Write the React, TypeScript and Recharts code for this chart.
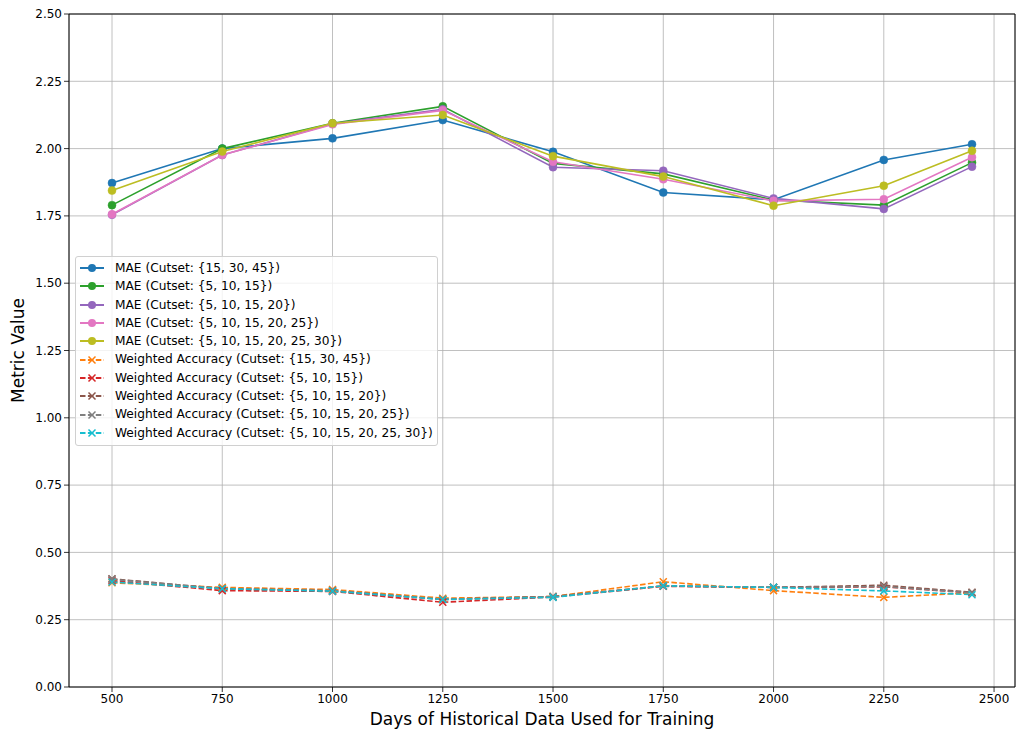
import React from "react";
import {
  LineChart,
  Line,
  XAxis,
  YAxis,
  CartesianGrid,
  Legend,
  ReferenceLine,
} from "recharts";

const days = [500, 750, 1000, 1250, 1500, 1750, 2000, 2250, 2450];
const xTicks = [500, 750, 1000, 1250, 1500, 1750, 2000, 2250, 2500];
const yTicks = [0, 0.25, 0.5, 0.75, 1.0, 1.25, 1.5, 1.75, 2.0, 2.25, 2.5];

const maeCut1 = [1.872, 2.0, 2.038, 2.106, 1.988, 1.837, 1.81, 1.958, 2.016];
const maeCut2 = [1.79, 2.0, 2.094, 2.157, 1.945, 1.906, 1.809, 1.79, 1.948];
const maeCut3 = [1.754, 1.976, 2.092, 2.146, 1.931, 1.918, 1.815, 1.776, 1.933];
const maeCut4 = [1.756, 1.976, 2.09, 2.142, 1.951, 1.886, 1.806, 1.812, 1.968];
const maeCut5 = [1.844, 1.989, 2.094, 2.125, 1.972, 1.896, 1.788, 1.862, 1.992];

const waCut1 = [0.387, 0.37, 0.362, 0.33, 0.336, 0.391, 0.358, 0.333, 0.35];
const waCut2 = [0.395, 0.358, 0.355, 0.315, 0.334, 0.374, 0.37, 0.372, 0.35];
const waCut3 = [0.402, 0.365, 0.357, 0.325, 0.336, 0.375, 0.37, 0.378, 0.352];
const waCut4 = [0.4, 0.366, 0.358, 0.326, 0.336, 0.376, 0.37, 0.373, 0.35];
const waCut5 = [0.39, 0.365, 0.356, 0.325, 0.333, 0.376, 0.37, 0.357, 0.343];

const cutsets = ["{15, 30, 45}", "{5, 10, 15}", "{5, 10, 15, 20}", "{5, 10, 15, 20, 25}", "{5, 10, 15, 20, 25, 30}"];
const maeColors = ["#1f77b4", "#2ca02c", "#9467bd", "#e377c2", "#bcbd22"];
const waColors = ["#ff7f0e", "#d62728", "#8c564b", "#7f7f7f", "#17becf"];
const maeSeries = [maeCut1, maeCut2, maeCut3, maeCut4, maeCut5];
const waSeries = [waCut1, waCut2, waCut3, waCut4, waCut5];

const data = days.map((d, i) => {
  const row: Record<string, number> = { day: d };
  maeSeries.forEach((s, k) => (row["mae" + k] = s[i]));
  waSeries.forEach((s, k) => (row["wa" + k] = s[i]));
  return row;
});

type Series = { key: string; name: string; color: string; kind: "mae" | "wa" };
const series: Series[] = [];
for (let k = 0; k < 5; k++) {
  series.push({ key: "mae" + k, name: `MAE (Cutset: ${cutsets[k]})`, color: maeColors[k], kind: "mae" });
  series.push({ key: "wa" + k, name: `Weighted Accuracy (Cutset: ${cutsets[k]})`, color: waColors[k], kind: "wa" });
}
const legendOrder = [...series.filter((s) => s.kind === "mae"), ...series.filter((s) => s.kind === "wa")];

const FONT = "DejaVu Sans, sans-serif";

const CircleDot = (props: any) => {
  const { cx, cy, stroke, index } = props;
  if (cx == null || cy == null) return <g key={index} />;
  return <circle key={index} cx={cx} cy={cy} r={4} fill={stroke} stroke={stroke} strokeWidth={0.5} />;
};

const XDot = (props: any) => {
  const { cx, cy, stroke, index } = props;
  if (cx == null || cy == null) return <g key={index} />;
  const s = 3.5;
  return (
    <path
      key={index}
      d={`M${cx - s},${cy - s}L${cx + s},${cy + s}M${cx - s},${cy + s}L${cx + s},${cy - s}`}
      stroke={stroke}
      strokeWidth={1.5}
      fill="none"
    />
  );
};

const LegendBox = () => (
  <div
    style={{
      background: "rgba(255,255,255,0.8)",
      border: "1px solid #d0d0d0",
      borderRadius: 3,
      padding: "2px 4px 3px 3px",
      fontFamily: FONT,
      fontSize: 12.2,
      color: "#000",
      lineHeight: "18.3px",
      whiteSpace: "nowrap",
    }}
  >
    {legendOrder.map((s) => (
      <div key={s.key} style={{ display: "flex", alignItems: "center", height: 18.3 }}>
        <svg width={36} height={12} style={{ marginRight: 0 }}>
          <line
            x1={1}
            x2={25}
            y1={6}
            y2={6}
            stroke={s.color}
            strokeWidth={2}
            strokeDasharray={s.kind === "wa" ? "5.5 2.4" : undefined}
          />
          {s.kind === "mae" ? (
            <circle cx={13} cy={6} r={4} fill={s.color} />
          ) : (
            <path d="M9.5,2.5L16.5,9.5M9.5,9.5L16.5,2.5" stroke={s.color} strokeWidth={1.5} />
          )}
        </svg>
        <span>{s.name}</span>
      </div>
    ))}
  </div>
);

const YLabel = (props: any) => {
  const vb = props.viewBox || {};
  const x = vb.x + 19;
  const y = vb.y + vb.height / 2;
  return (
    <text x={x} y={y} transform={`rotate(-90, ${x}, ${y})`} textAnchor="middle" dominantBaseline="middle" fontFamily={FONT} fontSize={17} fill="#000">
      Metric Value
    </text>
  );
};

const XLabel = (props: any) => {
  const vb = props.viewBox || {};
  const x = vb.x + vb.width / 2;
  const y = vb.y + vb.height - 8;
  return (
    <text x={x} y={y} textAnchor="middle" fontFamily={FONT} fontSize={17} fill="#000">
      Days of Historical Data Used for Training
    </text>
  );
};

export default function App() {
  return (
    <div style={{ position: "absolute", left: 0, top: 0, width: 1016, height: 733, background: "#fff" }}>
      <LineChart width={1016} height={733} data={data} margin={{ top: 14, right: 1, left: 0, bottom: 0 }}>
        <CartesianGrid stroke="#b0b0b0" strokeWidth={0.8} />
        <XAxis
          dataKey="day"
          type="number"
          domain={[402.5, 2547.5]}
          ticks={xTicks}
          allowDataOverflow
          height={46}
          tickSize={5}
          tickLine={{ stroke: "#000", strokeWidth: 0.8 }}
          axisLine={{ stroke: "#000", strokeWidth: 1 }}
          tick={{ fill: "#000", fontFamily: FONT, fontSize: 12 }}
          label={<XLabel />}
        />
        <YAxis
          type="number"
          domain={[0, 2.5]}
          ticks={yTicks}
          allowDataOverflow
          width={69}
          tickSize={5}
          tickLine={{ stroke: "#000", strokeWidth: 0.8 }}
          axisLine={{ stroke: "#000", strokeWidth: 1 }}
          tick={{ fill: "#000", fontFamily: FONT, fontSize: 12 }}
          tickFormatter={(v: number) => v.toFixed(2)}
          label={<YLabel />}
        />
        <ReferenceLine y={2.5} stroke="#000" strokeWidth={1} ifOverflow="extendDomain" />
        <ReferenceLine x={2547.5} stroke="#000" strokeWidth={1} ifOverflow="extendDomain" />
        {series.map((s) => (
          <Line
            key={s.key}
            dataKey={s.key}
            name={s.name}
            type="linear"
            stroke={s.color}
            strokeWidth={1.6}
            strokeDasharray={s.kind === "wa" ? "5.5 2.4" : undefined}
            dot={s.kind === "mae" ? <CircleDot /> : <XDot />}
            activeDot={false}
            isAnimationActive={false}
          />
        ))}
        <Legend
          layout="vertical"
          align="center"
          verticalAlign="middle"
          content={() => <LegendBox />}
          wrapperStyle={{ position: "absolute", left: 75, top: 256, width: "auto", height: "auto" }}
        />
      </LineChart>
    </div>
  );
}
